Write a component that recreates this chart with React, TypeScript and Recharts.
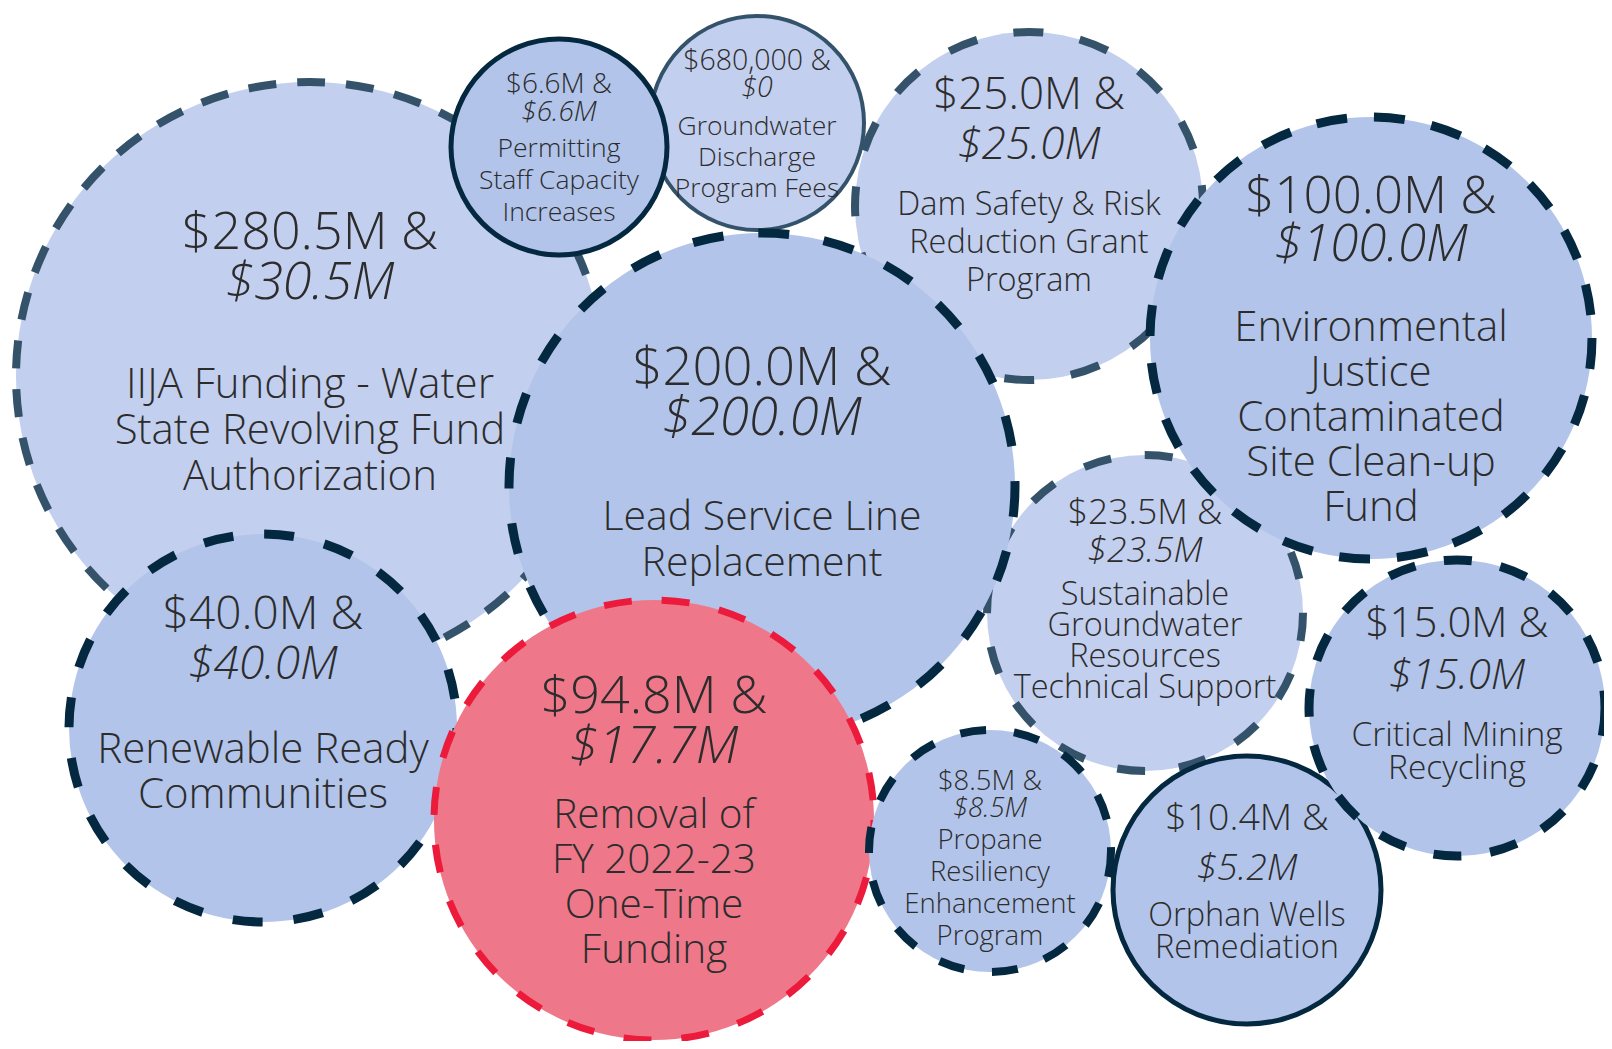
import { ScatterChart, Scatter, XAxis, YAxis, ZAxis } from "recharts";

const W = 1596;
const H = 1033;

// program names, one entry per bubble, already split in lines
const programs = [
  ["IIJA Funding - Water", "State Revolving Fund", "Authorization"],
  ["Groundwater", "Discharge", "Program Fees"],
  ["Permitting", "Staff Capacity", "Increases"],
  ["Dam Safety & Risk", "Reduction Grant", "Program"],
  ["Sustainable", "Groundwater", "Resources", "Technical Support"],
  ["Environmental", "Justice", "Contaminated", "Site Clean-up", "Fund"],
  ["Lead Service Line", "Replacement"],
  ["Renewable Ready", "Communities"],
  ["Removal of", "FY 2022-23", "One-Time", "Funding"],
  ["Propane", "Resiliency", "Enhancement", "Program"],
  ["Orphan Wells", "Remediation"],
  ["Critical Mining", "Recycling"],
];
const totalAmounts = ["$280.5M", "$680,000", "$6.6M", "$25.0M", "$23.5M", "$100.0M", "$200.0M", "$40.0M", "$94.8M", "$8.5M", "$10.4M", "$15.0M"];
const ongoingAmounts = ["$30.5M", "$0", "$6.6M", "$25.0M", "$23.5M", "$100.0M", "$200.0M", "$40.0M", "$17.7M", "$8.5M", "$5.2M", "$15.0M"];

// packed bubble layout (chart units) and bubble radius
const bubbleX = [302, 749, 551, 1021, 1137, 1363, 754, 255, 646, 982, 1239, 1449];
const bubbleY = [368, 115, 139, 198, 605, 330, 478, 720, 812, 843, 882, 700];
const bubbleR = [294, 107, 108, 174, 158, 221, 253, 194, 220, 121, 134, 148];

const LIGHT = "#c3cfee";
const MID = "#b2c4ea";
const PINK = "#ee788a";
const NAVY = "#03283f";
const SLATE = "#34536a";
const RED = "#ec1a3b";

// look of each bubble: fill, outline, and text sizes / offsets from the centre
const looks = [
  { fill: LIGHT, stroke: SLATE, sw: 8, dash: "28 21", value: 52, label: 42, top: -127, gap: 50, labelTop: 22, step: 46 },
  { fill: LIGHT, stroke: SLATE, sw: 4, dash: undefined, value: 28.5, label: 26.5, top: -53, gap: 27, labelTop: 12, step: 31 },
  { fill: MID, stroke: NAVY, sw: 5, dash: undefined, value: 28, label: 26.5, top: -54, gap: 28, labelTop: 10, step: 32 },
  { fill: LIGHT, stroke: SLATE, sw: 8, dash: "30 37", value: 44, label: 32.5, top: -97, gap: 50, labelTop: 9, step: 38 },
  { fill: LIGHT, stroke: SLATE, sw: 8, dash: "28 34", value: 35.5, label: 32.5, top: -89, gap: 38, labelTop: -8, step: 31 },
  { fill: MID, stroke: NAVY, sw: 9, dash: "31 27", value: 51, label: 42, top: -125, gap: 48, labelTop: 3, step: 45 },
  { fill: MID, stroke: NAVY, sw: 9, dash: "31 35", value: 52.5, label: 41, top: -101, gap: 50, labelTop: 44, step: 46 },
  { fill: MID, stroke: NAVY, sw: 9, dash: "30 31", value: 46, label: 42, top: -99, gap: 50, labelTop: 35, step: 45 },
  { fill: PINK, stroke: RED, sw: 7, dash: "28 30", value: 52, label: 40.5, top: -107, gap: 50, labelTop: 8, step: 45 },
  { fill: MID, stroke: NAVY, sw: 8, dash: "26 28", value: 27.5, label: 27.5, top: -61, gap: 27, labelTop: -2, step: 32 },
  { fill: MID, stroke: NAVY, sw: 5, dash: undefined, value: 37.5, label: 32.5, top: -60, gap: 50, labelTop: 36, step: 32 },
  { fill: MID, stroke: NAVY, sw: 9, dash: "28 29", value: 42, label: 33.5, top: -71, gap: 52, labelTop: 38, step: 33 },
];

const data = programs.map((lines, i) => ({
  idx: i,
  lines,
  total: totalAmounts[i],
  ongoing: ongoingAmounts[i],
  x: bubbleX[i],
  y: bubbleY[i],
  z: Math.PI * bubbleR[i] * bubbleR[i],
}));
const zMax = Math.max(...data.map((d) => d.z));

const FONT = "'Open Sans', 'DejaVu Sans', sans-serif";

const Bubble = (props: any) => {
  const { cx, cy, width, payload } = props;
  const s = looks[payload.idx];
  return (
    <circle
      cx={cx}
      cy={cy}
      r={width / 2}
      fill={s.fill}
      stroke={s.stroke}
      strokeWidth={s.sw}
      strokeDasharray={s.dash}
    />
  );
};

const BubbleText = (props: any) => {
  const { cx, cy, payload } = props;
  const s = looks[payload.idx];
  return (
    <g fontFamily={FONT} fontWeight={300} fill="#2c2c2c" textAnchor="middle">
      <text x={cx} y={cy + s.top} fontSize={s.value}>
        {payload.total + " &"}
      </text>
      <text x={cx} y={cy + s.top + s.gap} fontSize={s.value} fontStyle="italic">
        {payload.ongoing}
      </text>
      {payload.lines.map((l: string, i: number) => (
        <text key={i} x={cx} y={cy + s.labelTop + i * s.step} fontSize={s.label}>
          {l}
        </text>
      ))}
    </g>
  );
};

export default function App() {
  return (
    <div style={{ width: W, height: H }}>
      <style>{"svg{overflow:visible}"}</style>
      <ScatterChart width={W} height={H} margin={{ top: 0, right: 0, bottom: 0, left: 0 }}>
        <XAxis type="number" dataKey="x" domain={[0, W]} hide />
        <YAxis type="number" dataKey="y" domain={[0, H]} reversed hide />
        <ZAxis type="number" dataKey="z" domain={[0, zMax]} range={[0, zMax]} />
        <Scatter data={data} shape={Bubble} isAnimationActive={false} />
        <Scatter data={data} shape={BubbleText} isAnimationActive={false} />
      </ScatterChart>
    </div>
  );
}
